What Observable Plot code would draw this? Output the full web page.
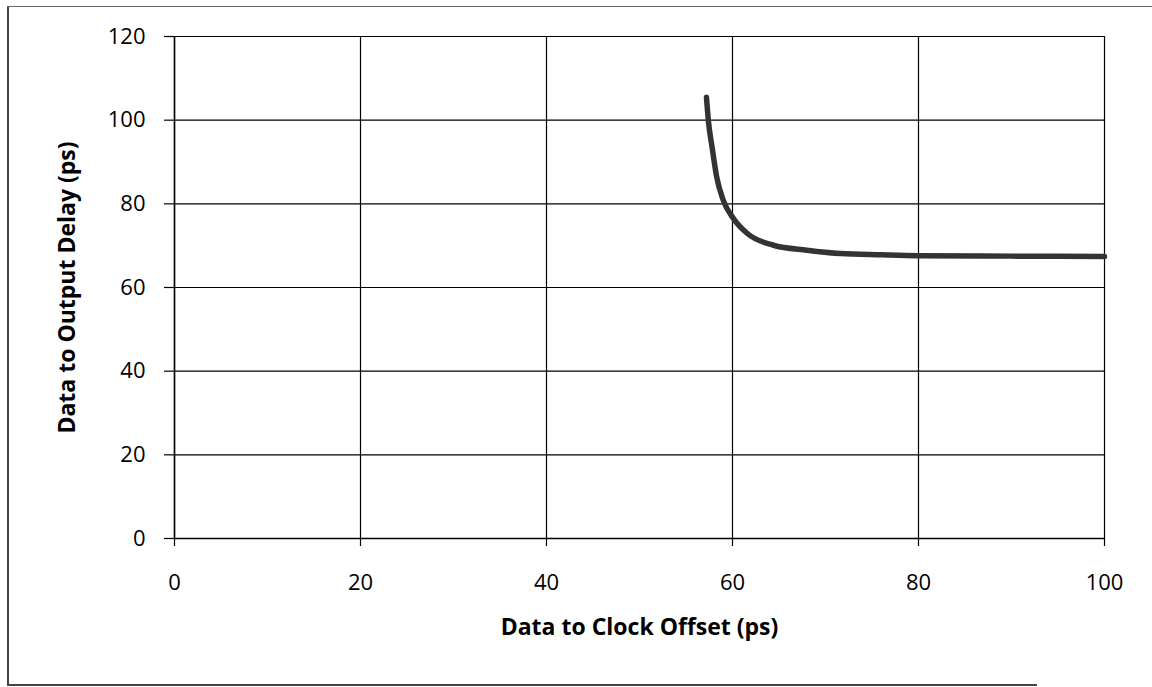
<!DOCTYPE html>
<html>
<head>
<meta charset="utf-8">
<script src="https://cdn.jsdelivr.net/npm/d3@7"></script>
<script src="https://cdn.jsdelivr.net/npm/@observablehq/plot@0.6"></script>
<style>
  html, body { margin: 0; padding: 0; background: #fff; }
  #wrap { position: relative; width: 1152px; height: 687px; overflow: hidden; }
  #bl { position: absolute; left: 7px; top: 6px; width: 0; height: 679px; border-left: 2px solid #444; }
  #bt { position: absolute; left: 7px; top: 6px; width: 1145px; height: 0; border-top: 1.5px solid #666; }
  #bb { position: absolute; left: 7px; top: 684px; width: 1030px; height: 0; border-top: 2px solid #444; }
</style>
</head>
<body>
<div id="wrap"><div id="bl"></div><div id="bt"></div><div id="bb"></div></div>
<script>
// Data to Clock Offset (ps)
const offset = [57.2, 57.4, 57.8, 58.3, 59.0, 60.1, 61.6, 64.4, 68.0, 71.6, 76.0, 80.0, 90.0, 100.0];
// Data to Output Delay (ps)
const delay  = [105.5, 100.0, 93.6, 86.4, 80.9, 76.5, 72.9, 70.1, 68.9, 68.1, 67.8, 67.6, 67.5, 67.4];
const xTicks = [0, 20, 40, 60, 80, 100];
const yTicks = [0, 20, 40, 60, 80, 100, 120];

const data = offset.map((x, i) => ({x, y: delay[i]}));

const chart = Plot.plot({
  width: 1152,
  height: 687,
  marginLeft: 174,
  marginRight: 48,
  marginTop: 36,
  marginBottom: 149,
  style: { fontFamily: "'Open Sans', sans-serif", fontSize: "22px", color: "#000", background: "transparent" },
  x: { domain: [0, 100], ticks: xTicks, label: null },
  y: { domain: [0, 120], ticks: yTicks, label: null },
  marks: [
    Plot.gridX(xTicks, { stroke: "#000", strokeOpacity: 1, strokeWidth: 1.2 }),
    Plot.gridY(yTicks, { stroke: "#000", strokeOpacity: 1, strokeWidth: 1.2 }),
    Plot.axisX(xTicks, { tickSize: 8, tickPadding: 28, fontSize: 22, label: null, strokeWidth: 1.2 }),
    Plot.axisY(yTicks, { tickSize: 10, tickPadding: 19, fontSize: 22, label: null, strokeWidth: 1.2 }),
    Plot.ruleY([0], { stroke: "#000", strokeWidth: 1.5 }),
    Plot.ruleX([0], { stroke: "#000", strokeWidth: 1.5 }),
    Plot.line(data, { x: "x", y: "y", stroke: "#333", strokeWidth: 5.5, curve: "monotone-x", strokeLinecap: "round" }),
    Plot.text(["Data to Clock Offset (ps)"], { frameAnchor: "bottom", dy: 96, text: d => d, fontWeight: "bold", fontSize: 23 }),
    Plot.text(["Data to Output Delay (ps)"], { frameAnchor: "left", textAnchor: "middle", dx: -107, rotate: -90, text: d => d, fontWeight: "bold", fontSize: 23 })
  ]
});
chart.style.position = "absolute";
chart.style.left = "0";
chart.style.top = "0";
document.getElementById("wrap").appendChild(chart);
</script>
</body>
</html>
